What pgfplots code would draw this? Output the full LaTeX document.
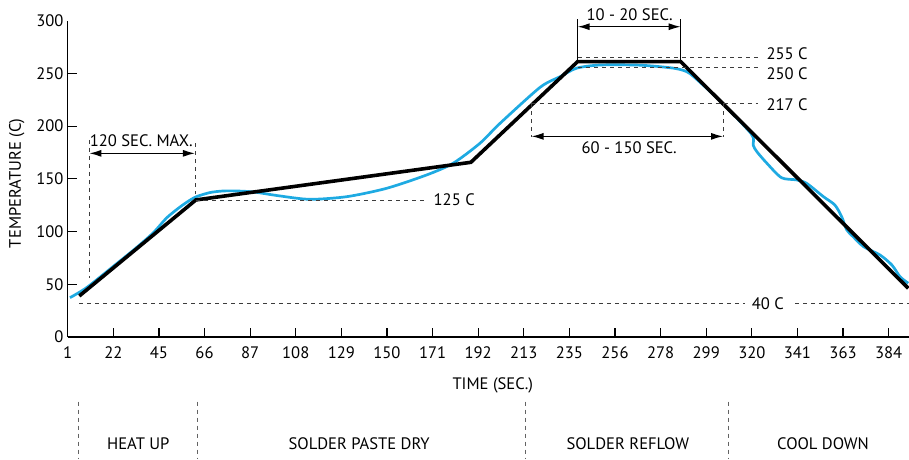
\documentclass[border=0pt]{standalone}
\usepackage{fontspec}
\setmainfont{PT Sans}
\usepackage{pgfplots}
\pgfplotsset{compat=1.18}
\usetikzlibrary{arrows.meta}
\definecolor{profblue}{RGB}{30,170,226}
\definecolor{dashgray}{RGB}{60,60,60}
\begin{document}
\begin{tikzpicture}[font=\fontsize{16.6}{19}\selectfont,
  dsh/.style={dashgray, line width=0.9pt, dash pattern=on 4pt off 4pt},
  arr/.style={black, line width=1.3pt, {Latex[length=12pt,width=7pt]}-{Latex[length=12pt,width=7pt]}}]
\useasboundingbox (-67.7pt,-122pt) rectangle (841.3pt,337pt);
\begin{axis}[
  at={(0,0)}, anchor=south west,
  scale only axis, width=841.3pt, height=316.3pt,
  xmin=0, xmax=18.446, ymin=0, ymax=300,
  axis lines=left, axis line style={line width=1.5pt, -},
  tick align=inside, major tick length=9pt,
  tick style={line width=1.2pt, black},
  xtick={0,...,18},
  xticklabels={1,22,45,66,87,108,129,150,171,192,213,235,256,278,299,320,341,363,384},
  ytick={0,50,...,250}, extra y ticks={300},
  extra y tick style={major tick length=0pt},
  xticklabel style={inner sep=0pt, yshift=-9pt},
  yticklabel style={inner sep=0pt, xshift=-4pt},
  /pgf/number format/assume math mode=true,
  clip=false,
]
% measured profile
\addplot[profblue, line width=2.7pt, smooth, tension=0.45] coordinates {
(0.05,37.3) (0.42,47) (1.0,67) (1.5,84.5) (1.88,99) (2.17,113) (2.5,124.5)
(2.79,132.5) (3.12,137) (3.41,138.5) (3.70,138.5) (4.07,137.6) (4.65,133.8)
(5.31,130.6) (6.12,133.1) (6.99,141) (7.87,153.7) (8.45,164.8) (9.04,183.8)
(9.48,202.7) (10.36,236.9) (10.80,247) (11.16,255) (11.68,258) (12.56,257.8)
(13.28,255) (13.57,251.7) (13.75,246) (14.3,224) (14.99,192.5) (15.03,182)
(15.11,175.8) (15.33,164.8) (15.65,151.1) (15.98,149) (16.20,145.8)
(16.57,133.1) (16.82,125.2) (16.97,114.1) (17.08,101.6) (17.22,95.2)
(17.45,85.7) (17.81,77.8) (18.07,68.3) (18.25,57.2) (18.43,51)
};
% target profile
\addplot[black, line width=3.6pt] coordinates {
(0.254,38.9) (2.81,130) (8.84,165.7) (11.18,261.2) (13.44,261.2) (18.43,46.2)
};

% reference levels
\draw[dsh] (axis cs:0.254,32) -- (axis cs:14.85,32);
\draw[dsh] (axis cs:15.95,32) -- (axis cs:18.446,32);
\node at (axis cs:15.35,32) {40 C};
\draw[dsh] (axis cs:2.82,129.9) -- (axis cs:7.90,129.9);
\node[anchor=west, inner sep=0pt] at (axis cs:8.02,129.9) {125 C};
\draw[dsh] (axis cs:10.17,221.7) -- (axis cs:15.14,221.7);
\node[anchor=west, inner sep=0pt] at (axis cs:15.32,220.1) {217 C};
\draw[dsh] (axis cs:11.19,255.8) -- (axis cs:15.14,255.8);
\node[anchor=west, inner sep=0pt] at (axis cs:15.32,250.1) {250 C};
\draw[dsh] (axis cs:11.19,265.0) -- (axis cs:15.14,265.0);
\node[anchor=west, inner sep=0pt] at (axis cs:15.32,269.1) {255 C};

% 120 sec max
\draw[dsh] (axis cs:0.474,187) -- (axis cs:0.474,55.7);
\draw[dsh] (axis cs:2.791,183.7) -- (axis cs:2.791,136);
\draw[arr] (axis cs:0.474,174.2) -- (axis cs:2.791,174.2);
\node at (axis cs:1.614,186.2) {120 SEC. MAX.};

% 10 - 20 sec
\draw[black, line width=0.9pt] (axis cs:11.18,301.3) -- (axis cs:11.18,261.2);
\draw[black, line width=0.9pt] (axis cs:13.44,301.3) -- (axis cs:13.44,261.2);
\draw[arr] (axis cs:11.18,294.3) -- (axis cs:13.44,294.3);
\node at (axis cs:12.32,305.4) {10 - 20 SEC.};

% 60 - 150 sec
\draw[dsh] (axis cs:10.17,221.7) -- (axis cs:10.17,190);
\draw[dsh] (axis cs:14.37,221.7) -- (axis cs:14.37,190);
\draw[arr] (axis cs:10.17,190.3) -- (axis cs:14.37,190.3);
\node at (axis cs:12.31,179.3) {60 - 150 SEC.};

% axis titles
\node at (axis cs:9.32,-45.5) {TIME (SEC.)};
\node[rotate=90] at (axis cs:-1.118,145.8) {TEMPERATURE (C)};

% phases
\draw[dsh, dashgray!80] (axis cs:0.243,-61.4) -- (axis cs:0.243,-115.7);
\draw[dsh, dashgray!80] (axis cs:2.850,-61.4) -- (axis cs:2.850,-115.7);
\draw[dsh, dashgray!80] (axis cs:10.044,-61.4) -- (axis cs:10.044,-115.7);
\draw[dsh, dashgray!80] (axis cs:14.49,-61.4) -- (axis cs:14.49,-115.7);
\node at (axis cs:1.548,-100.8) {HEAT UP};
\node at (axis cs:6.39,-100.8) {SOLDER PASTE DRY};
\node at (axis cs:12.28,-100.8) {SOLDER REFLOW};
\node at (axis cs:16.56,-100.8) {COOL DOWN};
\end{axis}
\end{tikzpicture}
\end{document}
